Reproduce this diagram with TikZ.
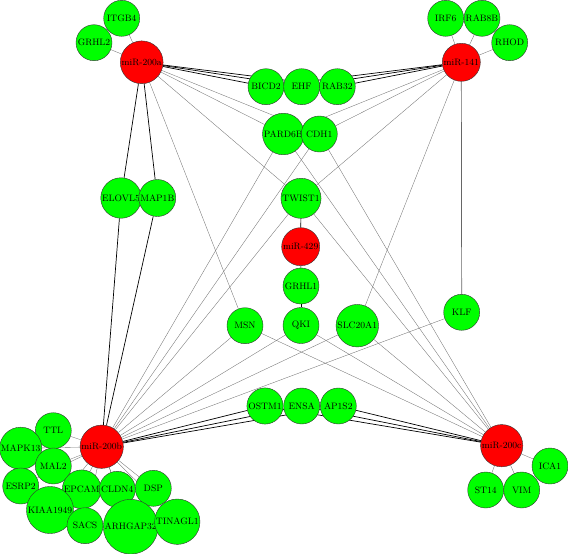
\documentclass[tikz,border=0pt]{standalone}
\usepackage{tikz}
\usetikzlibrary{backgrounds}
\definecolor{mirred}{HTML}{FF0000}
\definecolor{genegreen}{HTML}{00FF00}
\tikzset{
  gene/.style ={circle, draw=black!80, line width=0.4pt, fill=genegreen,
                minimum size=36pt, inner sep=1pt, font=\fontsize{9.3}{10}\selectfont},
  mirna/.style={gene, fill=mirred},
  weak/.style ={draw=black!55, line width=0.35pt},
  strong/.style={draw=black, line width=0.7pt},
}
\begin{document}
\begin{tikzpicture}[x=1pt,y=-1pt]
  \useasboundingbox (0,0) rectangle (568,554);
  \node[mirna] (m200a) at (141.7,62.3)  {miR-200a};
  \node[mirna] (m141)  at (461.3,62.3)  {miR-141};
  \node[mirna] (m200b) at (101.7,446.7) {miR-200b};
  \node[mirna] (m200c) at (501.7,445.7) {miR-200c};
  \node[mirna] (m429)  at (300.7,246.7) {miR-429};
  \node[gene] (itgb4)  at (121.7,18.3)  {ITGB4};
  \node[gene] (grhl2)  at (94,42.7)     {GRHL2};
  \node[gene] (irf6)   at (445.7,18.3)  {IRF6};
  \node[gene] (rab8b)  at (482,18.3)    {RAB8B};
  \node[gene] (rhod)   at (509.7,42.7)  {RHOD};
  \node[gene] (bicd2)  at (266,86.7)    {BICD2};
  \node[gene] (ehf)    at (301.7,86.7)  {EHF};
  \node[gene] (rab32)  at (337.3,86.7)  {RAB32};
  \node[gene] (pard6b) at (283.3,134)   {PARD6B};
  \node[gene] (cdh1)   at (319.3,134)   {CDH1};
  \node[gene] (elovl5) at (121,198)     {ELOVL5};
  \node[gene] (map1b)  at (157.3,198)   {MAP1B};
  \node[gene] (twist1) at (301,198.3)   {TWIST1};
  \node[gene] (grhl1)  at (301,286)     {GRHL1};
  \node[gene] (msn)    at (245,325.7)   {MSN};
  \node[gene] (qki)    at (301,325.5)   {QKI};
  \node[gene] (slc)    at (357.3,325.7) {SLC20A1};
  \node[gene] (klf)    at (461.7,312.3) {KLF};
  \node[gene] (ostm1)  at (265,406)     {OSTM1};
  \node[gene] (ensa)   at (301.7,406)   {ENSA};
  \node[gene] (ap1s2)  at (338.3,406)   {AP1S2};
  \node[gene] (ttl)    at (53.3,430.7)  {TTL};
  \node[gene] (mapk13) at (20.7,448.3)  {MAPK13};
  \node[gene] (mal2)   at (53.3,466)    {MAL2};
  \node[gene] (esrp2)  at (20.7,486)    {ESRP2};
  \node[gene] (epcam)  at (81.7,489.3)  {EPCAM};
  \node[gene] (cldn4)  at (117.3,489.3) {CLDN4};
  \node[gene] (dsp)    at (153.3,488.3) {DSP};
  \node[gene] (kiaa)   at (50,510)      {KIAA1949};
  \node[gene] (sacs)   at (85,525.7)    {SACS};
  \node[gene] (arhgap) at (130.7,526.7) {ARHGAP32};
  \node[gene] (tinagl) at (177.3,521.7) {TINAGL1};
  \node[gene] (ica1)   at (550,466)     {ICA1};
  \node[gene] (st14)   at (485.7,490)   {ST14};
  \node[gene] (vim)    at (521.7,490)   {VIM};
  \begin{scope}[on background layer]
    \foreach \t in {bicd2,ehf,rab32,elovl5,map1b}
      \draw[strong] (m200a) -- (\t);
    \foreach \t in {bicd2,ehf,rab32}
      \draw[strong] (m141) -- (\t);
    \foreach \t in {ostm1,ensa,ap1s2,elovl5,map1b}
      \draw[strong] (m200b) -- (\t);
    \foreach \t in {ostm1,ensa,ap1s2}
      \draw[strong] (m200c) -- (\t);
    \draw[strong] (m429) -- (twist1);
    \draw[strong] (m429) -- (grhl1);
    \draw[strong] (grhl1) -- (qki);
    \draw[strong,draw=black!60] (m141) -- (klf);
    \foreach \t in {itgb4,grhl2,pard6b,cdh1,twist1,msn}
      \draw[weak] (m200a) -- (\t);
    \foreach \t in {irf6,rab8b,rhod,pard6b,cdh1,twist1,slc}
      \draw[weak] (m141) -- (\t);
    \foreach \t in {ttl,mapk13,mal2,esrp2,epcam,cldn4,dsp,kiaa,sacs,arhgap,tinagl,
                    pard6b,cdh1,twist1,msn,qki,slc,klf}
      \draw[weak] (m200b) -- (\t);
    \foreach \t in {ica1,st14,vim,pard6b,cdh1,twist1,msn,qki,slc}
      \draw[weak] (m200c) -- (\t);
  \end{scope}
\end{tikzpicture}
\end{document}
